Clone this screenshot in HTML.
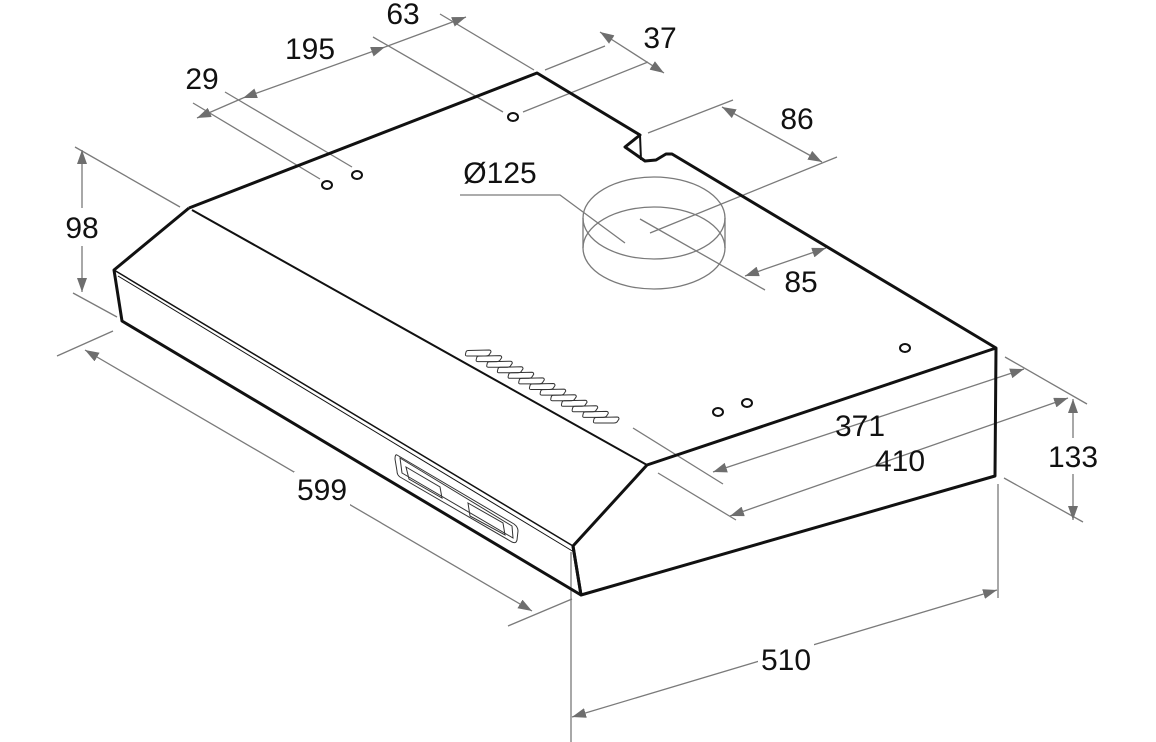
<!DOCTYPE html>
<html><head><meta charset="utf-8"><style>
html,body{margin:0;padding:0;background:#fff;}
svg{display:block;}
text{font-family:"Liberation Sans",sans-serif;font-size:30px;fill:#111;}
</style></head><body>
<svg width="1156" height="742" viewBox="0 0 1156 742" xmlns="http://www.w3.org/2000/svg">
<defs>
<marker id="a" viewBox="0 0 14 10" refX="14" refY="5" markerWidth="14" markerHeight="10" markerUnits="userSpaceOnUse" orient="auto-start-reverse">
<path d="M0,0 L14,5 L0,10 z" fill="#6e6e6e"/></marker>
<path id="s" d="M-10,-2.5 L11,-3 Q13,-3 13,-1 L11,2 Q10,3 8,3 L-11,3 Q-13,3 -12.5,1 L-12,-1 Q-11.5,-2.5 -10,-2.5 z"/>
</defs>
<g stroke="#7a7a7a" stroke-width="1.3" fill="none">
<line x1="193" y1="103" x2="320" y2="179"/>
<line x1="225" y1="92" x2="352" y2="167"/>
<line x1="373" y1="37" x2="503" y2="112"/>
<line x1="440" y1="14" x2="534" y2="70"/>
<line x1="545" y1="70" x2="605" y2="46"/>
<line x1="523" y1="112" x2="648" y2="62"/>
<line x1="197" y1="118" x2="243" y2="98" marker-start="url(#a)"/>
<line x1="243" y1="98" x2="385" y2="47" marker-start="url(#a)" marker-end="url(#a)"/>
<line x1="385" y1="47" x2="466" y2="17" marker-end="url(#a)"/>
<line x1="600" y1="32" x2="664" y2="73" marker-start="url(#a)" marker-end="url(#a)"/>
<line x1="648" y1="133" x2="733" y2="100"/>
<line x1="650" y1="233" x2="837" y2="157"/>
<line x1="722" y1="107" x2="822" y2="162" marker-start="url(#a)" marker-end="url(#a)"/>
<polyline points="460,195 560,195 625,243"/>
<line x1="640" y1="219" x2="765" y2="290"/>
<line x1="745" y1="276" x2="826" y2="248" marker-start="url(#a)" marker-end="url(#a)"/>
<line x1="75" y1="147" x2="180" y2="207"/>
<line x1="73" y1="293" x2="117" y2="317"/>
<line x1="82" y1="150" x2="82" y2="292" marker-start="url(#a)" marker-end="url(#a)"/>
<line x1="57" y1="356" x2="113" y2="331"/>
<line x1="508" y1="626" x2="572" y2="599"/>
<line x1="85" y1="350" x2="532" y2="611" marker-start="url(#a)" marker-end="url(#a)"/>
<line x1="633" y1="428" x2="723" y2="484"/>
<line x1="658" y1="473" x2="736" y2="520"/>
<line x1="713" y1="472" x2="1024" y2="369" marker-start="url(#a)" marker-end="url(#a)"/>
<line x1="730" y1="516" x2="1068" y2="398" marker-start="url(#a)" marker-end="url(#a)"/>
<line x1="1005" y1="357" x2="1087" y2="404"/>
<line x1="1004" y1="478" x2="1083" y2="522"/>
<line x1="1073" y1="399" x2="1073" y2="520" marker-start="url(#a)" marker-end="url(#a)"/>
<line x1="571" y1="552" x2="571" y2="742"/>
<line x1="998" y1="484" x2="998" y2="598"/>
<line x1="572" y1="717" x2="997" y2="590" marker-start="url(#a)" marker-end="url(#a)"/>
<ellipse cx="654" cy="218" rx="71" ry="41"/>
<path d="M583,218 L583,248 A71,41 0 0 0 725,248 L725,218"/>
<path d="M583,248 A71,41 0 0 1 725,248"/>
</g>
<g fill="#fff">
<rect x="1048" y="438" width="50" height="36"/>
<rect x="58" y="208" width="48" height="38"/>
<rect x="294" y="472" width="56" height="36"/>
<rect x="758" y="642" width="56" height="36"/>
</g>
<g stroke="#111" fill="none" stroke-linejoin="round">
<path d="M189,208 L537,73 L640,135 L625,147 L645,161 L656,160 L666,154 L672,154 L996,348 L995,476 L581,595 L573,546 L647,465 L996,348" stroke-width="3"/>
<path d="M189,208 L114,270 L122,321 L581,595" stroke-width="3"/>
<line x1="640" y1="135" x2="641" y2="160" stroke-width="2"/>
<line x1="192" y1="210" x2="647" y2="465" stroke-width="2"/>
<line x1="114" y1="270" x2="573" y2="546" stroke-width="1.5"/>
<line x1="118" y1="276" x2="574" y2="552" stroke-width="1"/>
<line x1="573" y1="546" x2="581" y2="595" stroke-width="3"/>
</g>
<g stroke="#111" stroke-width="2" fill="#fff">
<ellipse cx="327" cy="185" rx="5" ry="4"/>
<ellipse cx="357" cy="175" rx="5" ry="4"/>
<ellipse cx="513" cy="117" rx="5" ry="4"/>
<ellipse cx="718" cy="412" rx="5" ry="4"/>
<ellipse cx="747" cy="403" rx="5" ry="4"/>
<ellipse cx="905" cy="348" rx="5" ry="4"/>
</g>
<g stroke="#333" stroke-width="1" fill="none">
<use href="#s" transform="translate(478,353)"/>
<use href="#s" transform="translate(488.7,358.6)"/>
<use href="#s" transform="translate(499.3,364.2)"/>
<use href="#s" transform="translate(510,369.8)"/>
<use href="#s" transform="translate(520.7,375.3)"/>
<use href="#s" transform="translate(531.3,380.9)"/>
<use href="#s" transform="translate(542,386.5)"/>
<use href="#s" transform="translate(552.7,392.1)"/>
<use href="#s" transform="translate(563.3,397.7)"/>
<use href="#s" transform="translate(574,403.3)"/>
<use href="#s" transform="translate(584.7,408.8)"/>
<use href="#s" transform="translate(595.3,414.4)"/>
<use href="#s" transform="translate(606,420)"/>
<path d="M397,455 L514,524 Q518,527 518,531 L517,540 Q516,544 512,542 L400,477 Q397,475 397,471 L395,459 Q395,454 397,455 z"/>
<path d="M400,458 L512,526 L513,538 L402,473 z"/>
<path d="M406,467 L440,487 L442,498 L409,479 z"/>
<path d="M468,503 L503,523 L505,535 L470,516 z"/>
</g>
<text x="403" y="24" text-anchor="middle">63</text>
<text x="310" y="59" text-anchor="middle">195</text>
<text x="202" y="89" text-anchor="middle">29</text>
<text x="660" y="48" text-anchor="middle">37</text>
<text x="797" y="129" text-anchor="middle">86</text>
<text x="500" y="183" text-anchor="middle">Ø125</text>
<text x="801" y="292" text-anchor="middle">85</text>
<text x="82" y="238" text-anchor="middle">98</text>
<text x="322" y="500" text-anchor="middle">599</text>
<text x="860" y="436" text-anchor="middle">371</text>
<text x="900" y="471" text-anchor="middle">410</text>
<text x="1073" y="467" text-anchor="middle">133</text>
<text x="786" y="670" text-anchor="middle">510</text>
</svg>
</body></html>
